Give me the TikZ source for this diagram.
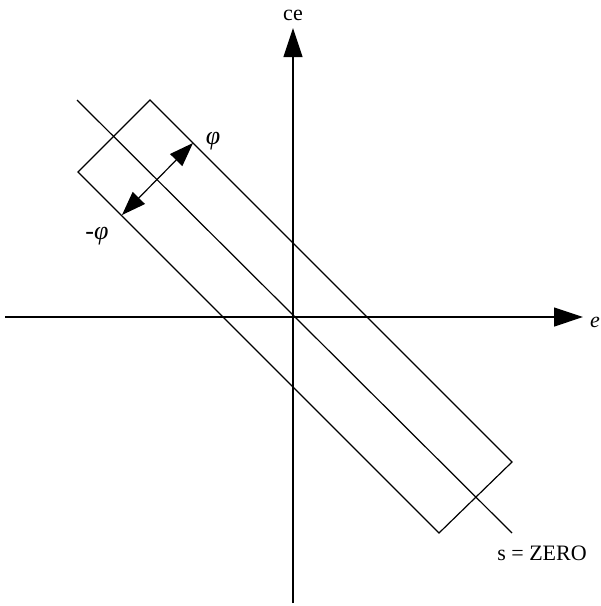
\documentclass[tikz,border=0pt]{standalone}
\usepackage{fontspec}
\setmainfont{Liberation Serif}
\usetikzlibrary{arrows.meta}
\begin{document}
\begin{tikzpicture}[x=1pt,y=-1pt,
  line/.style={line width=1.2pt},
  axisarrow/.style={line, -{Triangle[length=29pt,width=19pt]}},
  dblarrow/.style={line, {Triangle[length=24pt,width=17pt]}-{Triangle[length=24pt,width=17pt]}},
  lbl/.style={font=\fontsize{22}{24}\selectfont, inner sep=0pt},
  philbl/.style={font=\fontsize{26}{28}\selectfont, inner sep=0pt}]
\useasboundingbox (0,0) rectangle (601,606);
% axes
\coordinate (xl) at (5,317);
\coordinate (xr) at (583,317);
\coordinate (yb) at (293,603);
\coordinate (yt) at (293,28);
\draw[axisarrow] (xl) -- (xr);
\draw[axisarrow] (yb) -- (yt);
\node[lbl] (elbl) at (595,322) {\itshape e};
\node[lbl] (celbl) at (293,15) {ce};
% switching line
\coordinate (s1) at (77,100);
\coordinate (s2) at (512,533);
\draw[line] (s1) -- (s2);
\node[lbl] (slbl) at (542,553) {s = ZERO};
% boundary layer rectangle
\coordinate (rt) at (150,100);
\coordinate (rr) at (512,462);
\coordinate (rb) at (439,533);
\coordinate (rl) at (78,172);
\draw[line] (rt) -- (rr) -- (rb) -- (rl) -- cycle;
% width arrow
\coordinate (a1) at (193,143);
\coordinate (a2) at (122,215);
\draw[dblarrow] (a2) -- (a1);
\node[philbl] (phi) at (213,141) {\itshape φ};
\node[philbl] (mphi) at (97,236) {-\itshape φ};
\end{tikzpicture}
\end{document}
